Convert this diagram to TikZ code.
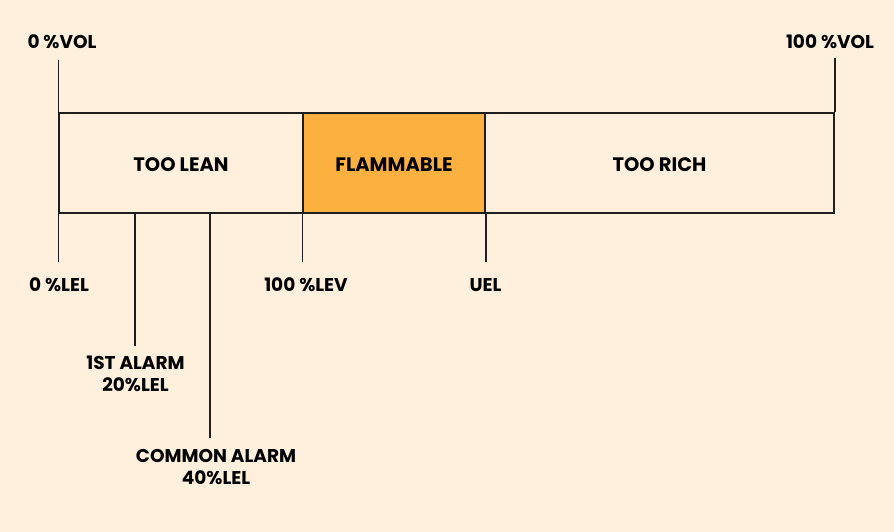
\documentclass[tikz,border=0pt]{standalone}
\usepackage{fontspec}
\setmainfont{Poppins}
\usepackage{xcolor}
\definecolor{mycream}{HTML}{FEF0DD}
\definecolor{myorange}{HTML}{FBB040}
\definecolor{myline}{HTML}{1E1E1E}
\tikzset{
  seg/.style={draw=myline, line width=1.5pt, minimum height=100pt, inner sep=0pt,
    text height=17.5pt, text depth=0pt,
    font=\fontsize{19.5}{22}\selectfont\bfseries},
  tick/.style={draw=myline, line width=1.5pt, shorten >=16pt},
  lab/.style={anchor=north, inner sep=0pt, align=center, text height=13pt,
    font=\fontsize{18.5}{22}\selectfont\bfseries},
  lab2/.style={lab, text height=35pt}
}
\begin{document}
\begin{tikzpicture}[x=1pt, y=-1pt]
    \fill[mycream] (0,0) rectangle (894,532);
    \useasboundingbox (0,0) rectangle (894,532);
    % the bar
    \node[seg, minimum width=244pt] (lean) at (181,163) {TOO LEAN};
    \node[seg, fill=myorange, minimum width=182pt] (flam) at (394,163) {FLAMMABLE};
    \node[seg, minimum width=349pt] (rich) at (659.5,163) {TOO RICH};
    % labels
    \node[lab, anchor=south] (vol0) at (62,48.5) {0 \%VOL};
    \node[lab, anchor=south] (vol100) at (830,48.5) {100 \%VOL};
    \node[lab] (lel0) at (59,278) {0 \%LEL};
    \node[lab2] (alarm1) at (135.5,356) {1ST ALARM\\20\%LEL};
    \node[lab2] (alarmc) at (216,449) {COMMON ALARM\\40\%LEL};
    \node[lab] (lev) at (306,278) {100 \%LEV};
    \node[lab] (uel) at (485.5,278) {UEL};
    \coordinate (a1) at (135,213);
    \coordinate (ac) at (210,213);
    % ticks
    \draw[tick, shorten >=12pt] (lean.north west) -- (lean.north west |- vol0.south);
    \draw[tick, shorten >=10pt] (rich.north east) -- (rich.north east |- vol100.south);
    \draw[tick] (lean.south west) -- (lean.south west |- lel0.north);
    \draw[tick, shorten >=10pt] (a1) -- (a1 |- alarm1.north);
    \draw[tick, shorten >=11pt] (ac) -- (ac |- alarmc.north);
    \draw[tick] (flam.south west) -- (flam.south west |- lev.north);
    \draw[tick] (flam.south east) -- (flam.south east |- uel.north);
\end{tikzpicture}
\end{document}
